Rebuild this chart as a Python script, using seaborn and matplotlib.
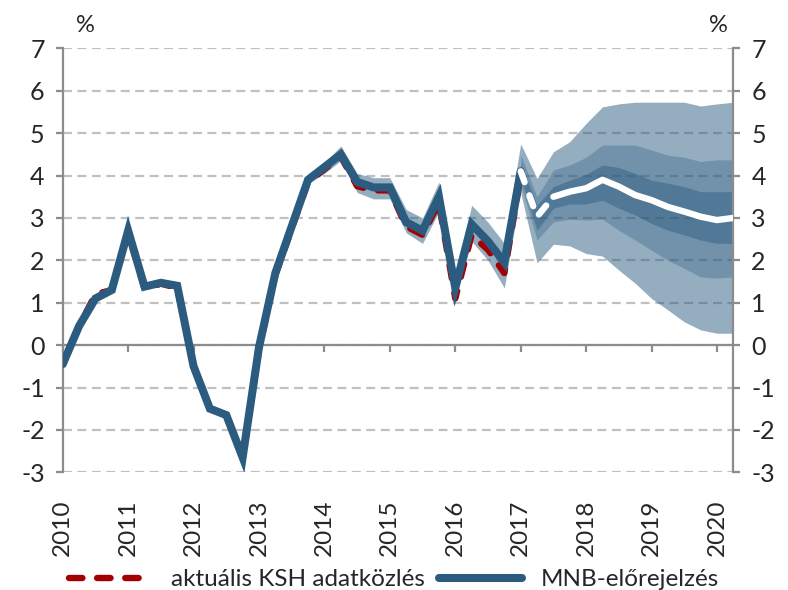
import matplotlib
matplotlib.use("Agg")
import matplotlib.pyplot as plt
from matplotlib.lines import Line2D
import numpy as np
import pandas as pd
import seaborn as sns

sns.set_theme(style="white")
plt.rcParams["font.family"] = ["Lato", "DejaVu Sans"]
plt.rcParams["axes.unicode_minus"] = False

# Negyedéves adatok 2010 Q1 - 2020 Q2 (index 0..41)
years = list(range(2010, 2021))
hist_idx = list(range(0, 29))
fc_idx = list(range(28, 42))
hist_band_idx = list(range(14, 29))
fan_idx = list(range(28, 42))

# MNB-előrejelzés (kék vonal), 2010 Q1 - 2017 Q1
mnb = [-0.45, 0.45, 1.1, 1.3, 2.7, 1.38, 1.47, 1.4, -0.5, -1.5, -1.65, -2.65,
       -0.05, 1.7, 2.8, 3.9, 4.2, 4.5, 3.85, 3.72, 3.72, 2.9, 2.7, 3.5, 1.35,
       2.85, 2.45, 1.95, 4.1]
# aktuális KSH adatközlés (piros szaggatott)
ksh = [-0.45, 0.45, 1.2, 1.3, 2.65, 1.33, 1.45, 1.35, -0.5, -1.5, -1.65, -2.65,
       -0.1, 1.65, 2.75, 3.85, 4.15, 4.45, 3.75, 3.65, 3.65, 2.8, 2.6, 3.35, 1.1,
       2.6, 2.25, 1.7, 4.0]
# előrejelzés középpályája (fehér vonal), 2017 Q1 - 2020 Q2
center = [4.1, 3.03, 3.5, 3.62, 3.7, 3.9, 3.74, 3.54, 3.42, 3.26, 3.15, 3.03,
          2.95, 3.0]

# múltbeli bizonytalansági sáv (2013 Q3 - 2017 Q1)
hist_hi = [2.85, 4.0, 4.3, 4.7, 4.05, 3.95, 3.95, 3.2, 3.0, 3.85, 1.6, 3.3,
           2.9, 2.4, 4.75]
hist_lo = [2.7, 3.8, 4.05, 4.35, 3.6, 3.45, 3.45, 2.65, 2.4, 3.15, 1.1, 2.45,
           2.0, 1.35, 3.6]

# legyezőábra sávjai (2017 Q1 - 2020 Q2)
outer_hi = [4.75, 3.93, 4.56, 4.8, 5.23, 5.62, 5.69, 5.73, 5.73, 5.73, 5.73,
            5.64, 5.69, 5.73]
outer_lo = [3.6, 1.94, 2.38, 2.34, 2.16, 2.1, 1.77, 1.46, 1.1, 0.83, 0.55,
            0.36, 0.28, 0.28]
mid_hi = [4.5, 3.5, 4.13, 4.25, 4.43, 4.72, 4.72, 4.72, 4.6, 4.48, 4.43, 4.33,
          4.37, 4.37]
mid_lo = [3.8, 2.48, 2.91, 2.97, 2.95, 2.97, 2.71, 2.48, 2.24, 2.0, 1.81, 1.61,
          1.58, 1.61]
inner_hi = [4.3, 3.3, 3.74, 3.89, 4.03, 4.25, 4.19, 4.05, 3.89, 3.82, 3.74,
            3.62, 3.62, 3.62]
inner_lo = [3.95, 2.71, 3.23, 3.33, 3.33, 3.42, 3.23, 3.07, 2.87, 2.71, 2.6,
            2.48, 2.4, 2.4]

BLUE = "#2b5c80"
RED = "#a50000"
GRID = "#c0c0c0"
AXIS = "#8c8c8c"

fig = plt.figure(figsize=(7.88, 5.9), dpi=100)
ax = fig.add_axes([0.0796, 0.1995, 0.851, 0.7185])

# sávok
ax.fill_between(hist_band_idx, hist_lo, hist_hi, color=BLUE, alpha=0.5,
                lw=0, zorder=2)
ax.fill_between(fan_idx, outer_lo, outer_hi, color=BLUE, alpha=0.5,
                lw=0, zorder=2)
ax.fill_between(fan_idx, mid_lo, mid_hi, color=BLUE, alpha=0.33,
                lw=0, zorder=2)
ax.fill_between(fan_idx, inner_lo, inner_hi, color=BLUE, alpha=0.45,
                lw=0, zorder=2)

df_hist = pd.DataFrame({"q": hist_idx, "mnb": mnb, "ksh": ksh})
sns.lineplot(data=df_hist, x="q", y="ksh", ax=ax, color=RED, lw=4.6,
             linestyle=(0, (2.1, 2.3)), dash_capstyle="round", zorder=4)
sns.lineplot(data=df_hist, x="q", y="mnb", ax=ax, color=BLUE, lw=5.8,
             solid_joinstyle="miter", zorder=5)

df_fc = pd.DataFrame({"q": fc_idx, "c": center})
sns.lineplot(data=df_fc.iloc[:3], x="q", y="c", ax=ax, color="white",
             lw=4.6, linestyle=(0, (1.8, 2.2)), dash_capstyle="round",
             zorder=6)
sns.lineplot(data=df_fc.iloc[2:], x="q", y="c", ax=ax, color="white",
             lw=4.6, solid_capstyle="round", zorder=6)

# tengelyek
ax.set_xlim(0, 41)
ax.set_ylim(-3, 7)
ax.set_yticks(range(-3, 8))
ax.yaxis.grid(True, color=GRID, lw=1.6, linestyle=(0, (4, 2.5)), zorder=0)
ax.set_axisbelow(True)
ax.axhline(0, color=AXIS, lw=1.6, zorder=1)

ax.spines["top"].set_visible(False)
for s in ("left", "right"):
    ax.spines[s].set_color(AXIS)
    ax.spines[s].set_linewidth(1.6)
ax.spines["bottom"].set_position(("data", 0))
ax.spines["bottom"].set_visible(False)

ax.set_xticks([4 * i for i in range(len(years))])
ax.set_xticklabels([str(y) for y in years], rotation=90, fontsize=17.5)
ax.tick_params(axis="x", bottom=True, direction="out", length=5, width=1.6,
               color=AXIS, pad=106)
ax.tick_params(axis="y", left=True, right=True, labelright=True,
               direction="out", length=5, width=1.6, color=AXIS,
               labelsize=18, pad=8)
ax.set_xlabel("")
ax.set_ylabel("")

fig.text(85 / 788, 1 - 25 / 590, "%", fontsize=17, ha="center", va="center")
fig.text(718 / 788, 1 - 25 / 590, "%", fontsize=17, ha="center", va="center")

handles = [
    Line2D([], [], color=RED, lw=4.6, linestyle=(0, (2.1, 2.3)),
           dash_capstyle="round"),
    Line2D([], [], color=BLUE, lw=5.8, solid_capstyle="round"),
]
fig.legend(handles, ["aktuális KSH adatközlés", "MNB-előrejelzés"],
           loc="lower center", bbox_to_anchor=(0.5, -0.025), ncol=2,
           frameon=False, fontsize=17.5, handlelength=3.4, handletextpad=0.8,
           columnspacing=0.6, borderpad=0.1)

fig.savefig("out.png", dpi=100)
